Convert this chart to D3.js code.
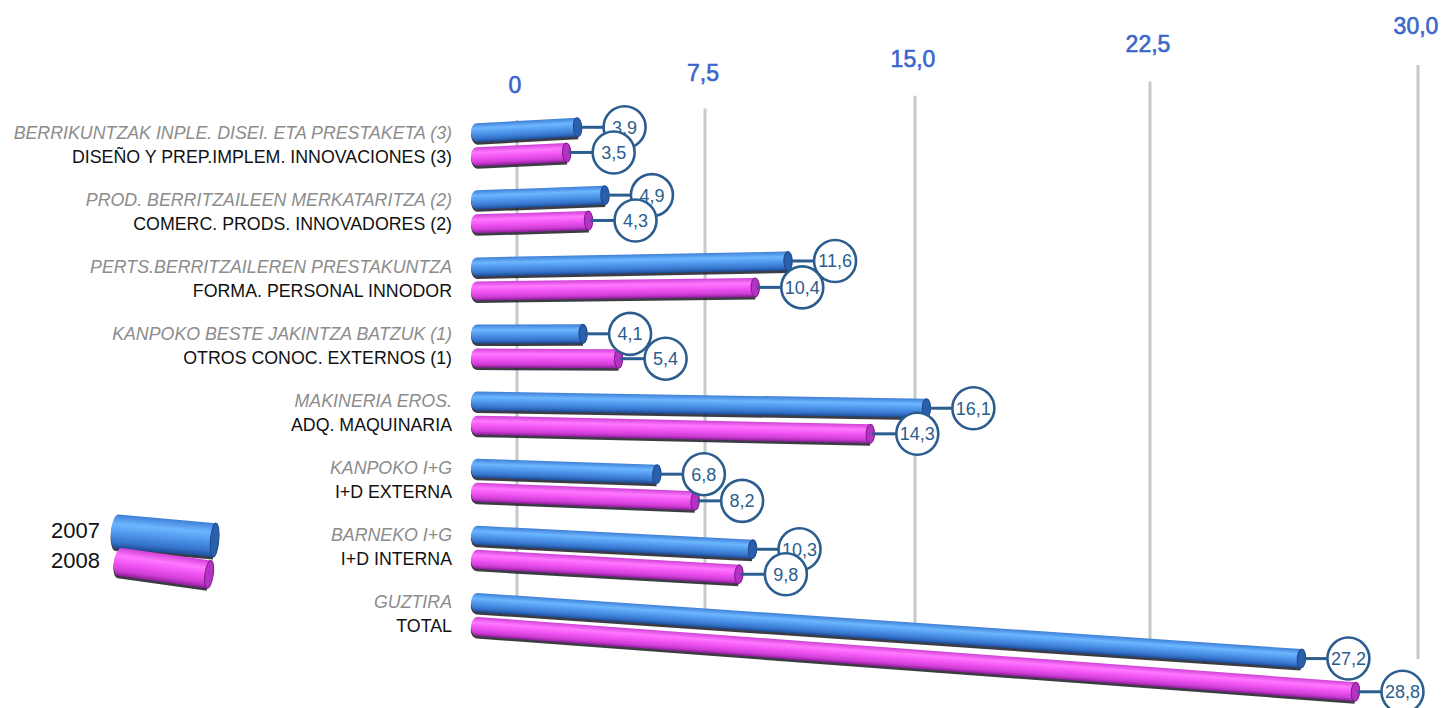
<!DOCTYPE html>
<html><head><meta charset="utf-8">
<script src="https://cdn.jsdelivr.net/npm/d3@7"></script>
<style>body{margin:0;background:#fff}svg{display:block}</style>
</head><body><svg id="chart" width="1444" height="708"></svg>
<script>
const categoriesEu = ["BERRIKUNTZAK INPLE. DISEI. ETA PRESTAKETA (3)","PROD. BERRITZAILEEN MERKATARITZA (2)","PERTS.BERRITZAILEREN PRESTAKUNTZA","KANPOKO BESTE JAKINTZA BATZUK (1)","MAKINERIA EROS.","KANPOKO I+G","BARNEKO I+G","GUZTIRA"];
const categoriesEs = ["DISEÑO Y PREP.IMPLEM. INNOVACIONES (3)","COMERC. PRODS. INNOVADORES (2)","FORMA. PERSONAL INNODOR","OTROS CONOC. EXTERNOS (1)","ADQ. MAQUINARIA","I+D EXTERNA","I+D INTERNA","TOTAL"];
const series = ["2007","2008"];
const values2007 = [3.9,4.9,11.6,4.1,16.1,6.8,10.3,27.2];
const values2008 = [3.5,4.3,10.4,5.4,14.3,8.2,9.8,28.8];
const tickValues = [0,7.5,15,22.5,30];
const tickLabels = ["0","7,5","15,0","22,5","30,0"];

const svg = d3.select("#chart");
const defs = svg.append("defs");
const palette = {
  "2007": {stops:["#3f7fd6","#6cb6ff","#4f96ea","#3574cc","#1d4a94"], cap:"#2a5fae", capDark:"#1d4585"},
  "2008": {stops:["#d040d6","#ff78ff","#f254f4","#cf3dd6","#8c1e98"], cap:"#b433c2", capDark:"#7e1c8c"}
};
series.forEach(s => {
  const g = defs.append("linearGradient").attr("id","grad"+s)
    .attr("x1",0).attr("y1",0).attr("x2",0).attr("y2",1);
  [0,0.28,0.55,0.82,1].forEach((o,i) => g.append("stop").attr("offset",o).attr("stop-color",palette[s].stops[i]));
});

const row = d3.scalePoint().domain(d3.range(categoriesEu.length)).range([133,602]);
const seriesOffset = d3.scalePoint().domain(series).range([0,24]);
const barLen = d3.scaleLinear().domain([0,12,16,30]).range([0,328,452,925]);
const gridX = d3.scaleLinear().domain(tickValues).range([517,705,915,1150,1418]);
const X0 = 471, BAR_H = 19, R = 21;
const tilt = y => (y - 340) * 0.00026;
const ink = "#2b5d8e";

const gridTop = x => 120 - (x - 517) * 0.061;
const labelY = x => 85 - (x - 517) * 0.066;
const totalY = row(7);
const gridBottom = x => totalY + tilt(totalY) * (x - X0) - BAR_H/2 + 2;

const grid = svg.append("g");
tickValues.forEach((t,i) => {
  const x = gridX(t);
  grid.append("line").attr("x1",x).attr("x2",x).attr("y1",gridTop(x)).attr("y2",gridBottom(x))
    .attr("stroke","#c3cccb").attr("stroke-width",3);
  grid.append("text").attr("x",x - 2).attr("y",labelY(x)).attr("dy","0.36em")
    .attr("text-anchor","middle").attr("font-family","Liberation Sans, Arial, sans-serif")
    .attr("font-size",23).attr("fill","#3a66cc").attr("stroke","#3a66cc").attr("stroke-width",0.6)
    .text(tickLabels[i]);
});

const lab = svg.append("g").attr("font-family","Liberation Sans, Arial, sans-serif").attr("font-size",17.8).attr("text-anchor","end");
categoriesEu.forEach((c,i) => {
  lab.append("text").attr("x",452).attr("y",row(i)).attr("dy","0.36em")
    .attr("fill","#8c8c8c").attr("font-style","italic").text(c);
  lab.append("text").attr("x",452).attr("y",row(i)+seriesOffset("2008")).attr("dy","0.36em")
    .attr("fill","#111").text(categoriesEs[i]);
});

function cylinder(g, len, h, s, r) {
  const p = `M${len},${-h/2} L${r},${-h/2} A${r},${h/2} 0 0 0 ${r},${h/2} L${len},${h/2} Z`;
  g.append("path").attr("d",p).attr("transform","translate(0,2.5)").attr("fill","#1a1a24").attr("opacity",0.85);
  g.append("path").attr("d",p).attr("fill",`url(#grad${s})`);
  g.append("ellipse").attr("cx",len).attr("cy",0).attr("rx",Math.max(3,r*0.7)).attr("ry",h/2)
    .attr("fill",palette[s].cap).attr("stroke",palette[s].capDark).attr("stroke-width",1);
}

const bars = svg.append("g");
const labels = svg.append("g");
const valuesBySeries = {"2007": values2007, "2008": values2008};
categoriesEu.forEach((c,i) => {
  series.forEach(s => {
    const v = valuesBySeries[s][i];
    const y0 = row(i) + seriesOffset(s);
    const sl = tilt(y0);
    const L = barLen(v);
    const ang = Math.atan(sl) * 180 / Math.PI;
    const g = bars.append("g").attr("transform",`translate(${X0},${y0}) rotate(${ang})`);
    cylinder(g, L / Math.cos(Math.atan(sl)), BAR_H, s, 6);
    const ex = X0 + L, ey = y0 + sl * L;
    const cx = ex + 47;
    const lg = labels.append("g");
    lg.append("line").attr("x1",ex+2).attr("x2",cx-R).attr("y1",ey).attr("y2",ey)
      .attr("stroke",ink).attr("stroke-width",3);
    lg.append("circle").attr("cx",cx).attr("cy",ey).attr("r",R)
      .attr("fill","#fff").attr("stroke",ink).attr("stroke-width",2.6);
    lg.append("text").attr("x",cx).attr("y",ey).attr("dy","0.36em").attr("text-anchor","middle")
      .attr("font-family","Liberation Sans, Arial, sans-serif").attr("font-size",18).attr("fill",ink)
      .text(d3.format(".1f")(v).replace(".",","));
  });
});

const legend = svg.append("g");
const legendSpec = {"2007": {x:111, y:531, rot:5, len:104, h:34, ty:530}, "2008": {x:114, y:561, rot:8, len:96, h:28, ty:560}};
series.forEach(s => {
  const sp = legendSpec[s];
  legend.append("text").attr("x",100).attr("y",sp.ty).attr("dy","0.36em").attr("text-anchor","end")
    .attr("font-family","Liberation Sans, Arial, sans-serif").attr("font-size",22).attr("fill","#111").text(s);
  const g = legend.append("g").attr("transform",`translate(${sp.x},${sp.y}) rotate(${sp.rot})`);
  cylinder(g, sp.len, sp.h, s, 6);
});
</script></body></html>
